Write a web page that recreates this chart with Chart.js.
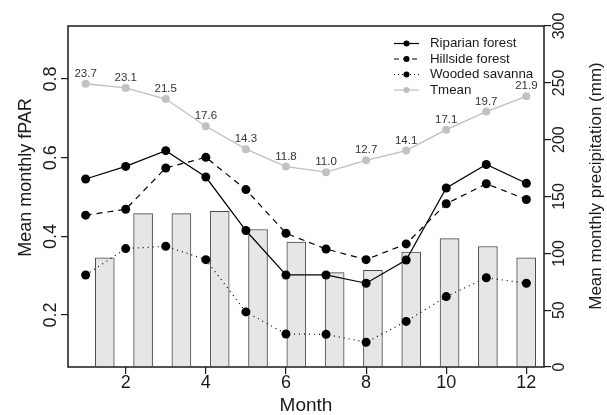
<!DOCTYPE html>
<html>
<head>
<meta charset="utf-8">
<script src="https://cdn.jsdelivr.net/npm/chart.js@4/dist/chart.umd.min.js"></script>
<style>
  html, body { margin: 0; padding: 0; background: #fff; }
  #wrap { width: 607px; height: 415px; }
</style>
</head>
<body>
<div id="wrap"><canvas id="fpar-chart"></canvas></div>
<script>
// ---- data
const months = [1, 2, 3, 4, 5, 6, 7, 8, 9, 10, 11, 12];
const riparian = [0.546, 0.578, 0.618, 0.551, 0.415, 0.302, 0.302, 0.281, 0.340, 0.523, 0.583, 0.535];
const hillside = [0.454, 0.469, 0.574, 0.601, 0.519, 0.408, 0.368, 0.341, 0.381, 0.483, 0.534, 0.494];
const savanna = [0.302, 0.369, 0.375, 0.341, 0.208, 0.152, 0.151, 0.131, 0.184, 0.247, 0.295, 0.281];
const tmean = [23.7, 23.1, 21.5, 17.6, 14.3, 11.8, 11.0, 12.7, 14.1, 17.1, 19.7, 21.9];
const precip = [96, 135, 135, 137, 121, 110, 83, 85, 101, 113, 106, 96];

const monthTicks = [2, 4, 6, 8, 10, 12];
const fparTicks = [0.2, 0.4, 0.6, 0.8];
const precipTicks = [0, 50, 100, 150, 200, 250, 300];

const FONT = '"Liberation Sans", Arial, Helvetica, sans-serif';
const INK = '#1a1a1a';

function pts(arr) {
  return months.map((m, i) => ({ x: m, y: arr[i] }));
}

function setTicks(list) {
  return function (scale) {
    scale.ticks = list.map(v => ({ value: v }));
  };
}

// axis tick marks only, labels are drawn by the plugin below
function axisStyle() {
  return {
    grid: { drawOnChartArea: false, drawTicks: true, tickLength: 7, color: INK, tickColor: INK, lineWidth: 1.2 },
    border: { display: false },
    ticks: { display: false }
  };
}

// ---- text, legend and frame
const decorations = {
  id: 'decorations',
  afterDraw(chart) {
    const ctx = chart.ctx;
    const area = chart.chartArea;
    const s = chart.scales;

    ctx.save();
    // frame
    ctx.strokeStyle = INK;
    ctx.lineWidth = 1.5;
    ctx.strokeRect(area.left, area.top, area.right - area.left, area.bottom - area.top);

    ctx.fillStyle = INK;
    ctx.textAlign = 'center';
    ctx.textBaseline = 'middle';

    function vtext(txt, x, y, size) {
      ctx.save();
      ctx.translate(x, y);
      ctx.rotate(-Math.PI / 2);
      ctx.font = size + 'px ' + FONT;
      ctx.fillText(txt, 0, 0);
      ctx.restore();
    }

    fparTicks.forEach(v => vtext(v.toFixed(1), 51.5, s.y.getPixelForValue(v), 18));
    vtext('Mean monthly fPAR', 26.5, 177.5, 18);

    precipTicks.forEach(v => vtext(String(v), 560, s.yp.getPixelForValue(v), 16));
    vtext('Mean monthly precipitation (mm)', 596.5, 186, 17);

    ctx.font = '18px ' + FONT;
    monthTicks.forEach(v => ctx.fillText(String(v), s.x.getPixelForValue(v), 383));
    ctx.font = '19px ' + FONT;
    ctx.fillText('Month', (area.left + area.right) / 2, 406);

    // temperature labels above the grey points
    ctx.font = '11.5px ' + FONT;
    ctx.fillStyle = '#333';
    const tMeta = chart.getDatasetMeta(3);
    tMeta.data.forEach((el, i) => ctx.fillText(tmean[i].toFixed(1), el.x, el.y - 10));

    // legend
    const rows = [
      { label: 'Riparian forest', color: '#000', dash: [], r: 3 },
      { label: 'Hillside forest', color: '#000', dash: [5, 4], r: 3 },
      { label: 'Wooded savanna', color: '#000', dash: [1, 3], r: 3 },
      { label: 'Tmean', color: '#bdbdbd', dash: [], r: 3 }
    ];
    ctx.font = '13.3px ' + FONT;
    ctx.textAlign = 'left';
    rows.forEach((row, i) => {
      const y = 43.5 + i * 15.5;
      ctx.strokeStyle = row.color;
      ctx.lineWidth = 1.2;
      ctx.setLineDash(row.dash);
      ctx.beginPath();
      ctx.moveTo(394, y);
      ctx.lineTo(419, y);
      ctx.stroke();
      ctx.setLineDash([]);
      ctx.fillStyle = row.color;
      ctx.beginPath();
      ctx.arc(406.5, y, row.r, 0, Math.PI * 2);
      ctx.fill();
      ctx.fillStyle = INK;
      ctx.fillText(row.label, 430, y);
    });
    ctx.restore();
  }
};

const fparChart = new Chart(document.getElementById('fpar-chart'), {
  type: 'line',
  data: {
    datasets: [
      {
        label: 'Riparian forest',
        data: pts(riparian),
        borderColor: '#000',
        borderWidth: 1.2,
        pointRadius: 4.5,
        pointBackgroundColor: '#000',
        pointBorderWidth: 0,
        tension: 0,
        xAxisID: 'x', yAxisID: 'y', order: 1
      },
      {
        label: 'Hillside forest',
        data: pts(hillside),
        borderColor: '#000',
        borderWidth: 1.2,
        borderDash: [6, 5],
        pointRadius: 4.5,
        pointBackgroundColor: '#000',
        pointBorderWidth: 0,
        xAxisID: 'x', yAxisID: 'y', order: 2
      },
      {
        label: 'Wooded savanna',
        data: pts(savanna),
        borderColor: '#000',
        borderWidth: 1.2,
        borderDash: [1, 4],
        pointRadius: 4.5,
        pointBackgroundColor: '#000',
        pointBorderWidth: 0,
        xAxisID: 'x', yAxisID: 'y', order: 3
      },
      {
        label: 'Tmean',
        data: pts(tmean),
        borderColor: '#bfbfbf',
        borderWidth: 1.3,
        pointRadius: 4,
        pointBackgroundColor: '#c2c2c2',
        pointBorderWidth: 0,
        xAxisID: 'x', yAxisID: 'yt', order: 4
      },
      {
        type: 'bar',
        label: 'Precipitation',
        data: pts(precip),
        backgroundColor: '#e6e6e7',
        borderColor: '#4a4a4a',
        borderWidth: 1,
        borderSkipped: 'bottom',
        barThickness: 19,
        xAxisID: 'xb', yAxisID: 'yp', order: 10
      }
    ]
  },
  options: {
    responsive: true,
    maintainAspectRatio: false,
    animation: false,
    events: [],
    layout: { padding: { top: 26, left: 0, right: 0, bottom: 0 } },
    plugins: { legend: { display: false }, tooltip: { enabled: false } },
    scales: {
      x: Object.assign(axisStyle(), {
        type: 'linear', position: 'bottom', min: 0.56, max: 12.44,
        afterBuildTicks: setTicks(monthTicks),
        afterFit: s => { s.height = 48; }
      }),
      y: Object.assign(axisStyle(), {
        type: 'linear', position: 'left', min: 0.068, max: 0.935,
        afterBuildTicks: setTicks(fparTicks),
        afterFit: s => { s.width = 68; }
      }),
      yp: Object.assign(axisStyle(), {
        type: 'linear', position: 'right', min: 0, max: 300,
        afterBuildTicks: setTicks(precipTicks),
        afterFit: s => { s.width = 63; }
      }),
      // bars sit on their own, slightly narrower month spacing
      xb: { type: 'linear', display: false, min: 0.288, max: 12.713, offset: false },
      yt: { type: 'linear', display: false, min: -17, max: 32 }
    }
  },
  plugins: [decorations]
});
</script>
</body>
</html>
